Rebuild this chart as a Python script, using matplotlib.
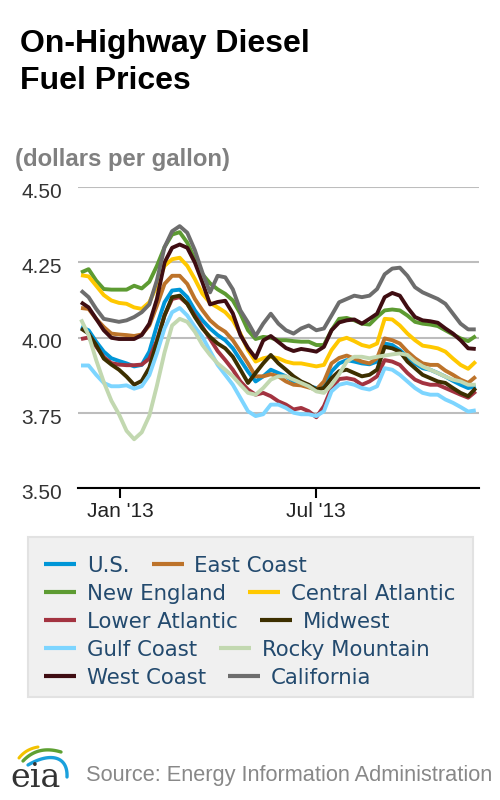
import numpy as np
import pandas as pd
import matplotlib
matplotlib.use("Agg")
import matplotlib.pyplot as plt
import matplotlib.dates as mdates
from matplotlib.lines import Line2D
from matplotlib.patches import Rectangle
from matplotlib.transforms import blended_transform_factory, offset_copy

# ---------------- data ----------------
dates = pd.date_range("2012-11-26", periods=53, freq="7D")

us = [4.035, 4.024, 3.986, 3.953, 3.931, 3.922, 3.914, 3.904, 3.909, 3.953,
      4.040, 4.117, 4.156, 4.159, 4.134, 4.090, 4.057, 4.030, 4.008, 3.991,
      3.964, 3.925, 3.887, 3.854, 3.871, 3.893, 3.882, 3.871, 3.854, 3.849,
      3.838, 3.832, 3.838, 3.887, 3.914, 3.925, 3.920, 3.914, 3.911, 3.920,
      3.980, 3.975, 3.958, 3.936, 3.914, 3.898, 3.893, 3.882, 3.870, 3.856,
      3.843, 3.832, 3.838]
east_coast = [4.098, 4.095, 4.062, 4.035, 4.013, 4.010, 4.008, 4.005, 4.010, 4.040,
              4.106, 4.178, 4.205, 4.205, 4.178, 4.128, 4.090, 4.057, 4.035, 4.019,
              3.991, 3.953, 3.914, 3.871, 3.871, 3.878, 3.871, 3.854, 3.843, 3.841,
              3.834, 3.827, 3.854, 3.914, 3.932, 3.940, 3.930, 3.920, 3.914, 3.931,
              3.997, 3.991, 3.980, 3.953, 3.931, 3.914, 3.909, 3.909, 3.890, 3.876,
              3.860, 3.849, 3.870]
new_england = [4.216, 4.227, 4.189, 4.161, 4.159, 4.159, 4.159, 4.172, 4.163, 4.185,
               4.238, 4.300, 4.342, 4.350, 4.315, 4.260, 4.210, 4.180, 4.160, 4.145,
               4.123, 4.079, 4.024, 3.995, 4.002, 3.999, 3.991, 3.991, 3.988, 3.986,
               3.986, 3.975, 3.975, 4.024, 4.062, 4.065, 4.057, 4.046, 4.043, 4.068,
               4.090, 4.093, 4.090, 4.073, 4.052, 4.046, 4.043, 4.038, 4.024, 4.010,
               3.997, 3.988, 4.005]
central_atlantic = [4.207, 4.203, 4.172, 4.141, 4.123, 4.115, 4.112, 4.100, 4.095, 4.117,
                    4.172, 4.238, 4.260, 4.265, 4.238, 4.194, 4.145, 4.115, 4.100, 4.084,
                    4.057, 4.013, 3.958, 3.920, 3.931, 3.936, 3.931, 3.920, 3.914, 3.914,
                    3.909, 3.904, 3.909, 3.958, 3.991, 3.999, 3.988, 3.975, 3.969, 3.980,
                    4.062, 4.060, 4.040, 4.013, 3.991, 3.973, 3.969, 3.964, 3.953, 3.930,
                    3.909, 3.896, 3.920]
lower_atlantic = [3.995, 4.000, 3.970, 3.935, 3.915, 3.910, 3.908, 3.908, 3.910, 3.930,
                  3.990, 4.073, 4.128, 4.134, 4.112, 4.073, 4.035, 3.995, 3.955, 3.925,
                  3.893, 3.854, 3.827, 3.810, 3.816, 3.805, 3.788, 3.777, 3.761, 3.766,
                  3.755, 3.735, 3.772, 3.832, 3.862, 3.865, 3.860, 3.843, 3.854, 3.871,
                  3.925, 3.920, 3.909, 3.882, 3.860, 3.849, 3.843, 3.843, 3.832, 3.821,
                  3.810, 3.800, 3.821]
midwest = [4.030, 4.013, 3.975, 3.930, 3.910, 3.893, 3.870, 3.843, 3.856, 3.900,
           3.986, 4.073, 4.134, 4.139, 4.112, 4.068, 4.030, 4.002, 3.980, 3.964,
           3.936, 3.893, 3.849, 3.882, 3.914, 3.942, 3.914, 3.893, 3.871, 3.854,
           3.843, 3.827, 3.832, 3.865, 3.888, 3.893, 3.882, 3.871, 3.876, 3.893,
           3.969, 3.964, 3.953, 3.920, 3.898, 3.876, 3.865, 3.854, 3.849, 3.832,
           3.816, 3.805, 3.832]
gulf_coast = [3.907, 3.907, 3.876, 3.849, 3.838, 3.838, 3.841, 3.830, 3.838, 3.875,
              3.948, 4.030, 4.084, 4.098, 4.073, 4.035, 4.002, 3.955, 3.909, 3.876,
              3.843, 3.799, 3.755, 3.739, 3.745, 3.777, 3.777, 3.766, 3.750, 3.745,
              3.745, 3.739, 3.755, 3.821, 3.843, 3.849, 3.843, 3.832, 3.827, 3.838,
              3.898, 3.893, 3.876, 3.854, 3.832, 3.816, 3.810, 3.810, 3.794, 3.783,
              3.769, 3.754, 3.758]
rocky_mountain = [4.060, 4.008, 3.925, 3.852, 3.790, 3.745, 3.690, 3.662, 3.685, 3.740,
                  3.840, 3.950, 4.040, 4.062, 4.052, 4.019, 3.975, 3.942, 3.914, 3.893,
                  3.871, 3.843, 3.816, 3.810, 3.832, 3.860, 3.871, 3.871, 3.860, 3.849,
                  3.838, 3.821, 3.816, 3.843, 3.878, 3.920, 3.936, 3.936, 3.931, 3.936,
                  3.940, 3.944, 3.947, 3.942, 3.920, 3.904, 3.893, 3.882, 3.870, 3.860,
                  3.854, 3.843, 3.843]
west_coast = [4.117, 4.100, 4.062, 4.024, 3.999, 3.995, 3.995, 3.995, 4.008, 4.046,
              4.128, 4.249, 4.298, 4.309, 4.298, 4.249, 4.183, 4.110, 4.118, 4.122,
              4.080, 4.008, 3.965, 3.932, 3.990, 4.005, 3.985, 3.965, 3.955, 3.962,
              3.958, 3.953, 3.969, 4.024, 4.050, 4.057, 4.060, 4.046, 4.062, 4.079,
              4.134, 4.148, 4.139, 4.100, 4.068, 4.057, 4.054, 4.049, 4.030, 4.013,
              3.991, 3.964, 3.962]
california = [4.156, 4.134, 4.095, 4.062, 4.057, 4.052, 4.057, 4.068, 4.084, 4.110,
              4.190, 4.300, 4.353, 4.370, 4.348, 4.290, 4.215, 4.150, 4.205, 4.200,
              4.160, 4.090, 4.050, 4.005, 4.046, 4.079, 4.046, 4.024, 4.013, 4.030,
              4.040, 4.024, 4.030, 4.073, 4.117, 4.128, 4.139, 4.134, 4.139, 4.161,
              4.210, 4.229, 4.232, 4.205, 4.167, 4.150, 4.139, 4.128, 4.112, 4.079,
              4.046, 4.027, 4.027]

series_names = ["U.S.", "East Coast", "New England", "Central Atlantic", "Lower Atlantic",
                "Midwest", "Gulf Coast", "Rocky Mountain", "West Coast", "California"]
series_values = [us, east_coast, new_england, central_atlantic, lower_atlantic,
                 midwest, gulf_coast, rocky_mountain, west_coast, california]
series_colors = ["#0096d7", "#bd732a", "#5d9b32", "#ffc800", "#a33340",
                 "#3d2f00", "#7dd5ff", "#c2d8b0", "#3f0d12", "#6d6d6d"]

ytick_vals = [3.50, 3.75, 4.00, 4.25, 4.50]
ytick_labels = ["3.50", "3.75", "4.00", "4.25", "4.50"]
xtick_dates = [pd.Timestamp("2013-01-01"), pd.Timestamp("2013-07-01")]
xtick_labels = ["Jan '13", "Jul '13"]

title_lines = ["On-Highway Diesel", "Fuel Prices"]
unit_label = "(dollars per gallon)"
source_text = "Source: Energy Information Administration"

# ---------------- figure ----------------
W, H = 500, 800
fig = plt.figure(figsize=(5, 8), dpi=100)
fig.patch.set_facecolor("white")

def fx(px):
    return px / W

def fy(py):
    return 1 - py / H

SANS = ["Liberation Sans", "DejaVu Sans"]

ax_left, ax_right, ax_top, ax_bottom = 78, 479, 187, 488
ax = fig.add_axes([fx(ax_left), fy(ax_bottom), (ax_right - ax_left) / W, (ax_bottom - ax_top) / H])

for vals, col in zip(series_values, series_colors):
    ax.plot(dates, vals, color=col, lw=2.8, solid_joinstyle="round", solid_capstyle="butt", zorder=3)

ax.set_ylim(3.5, 4.5)
px_per_day = 1.0845
first_px = 81
d0 = mdates.date2num(dates[0])
ax.set_xlim(d0 - (first_px - ax_left) / px_per_day, d0 + (ax_right - first_px) / px_per_day)

ax.set_yticks(ytick_vals)
ax.set_yticklabels([])
ax.tick_params(axis="y", length=0)
ax.yaxis.grid(True, color="#bdbdbd", lw=1.5)
ax.set_axisbelow(True)

ax.set_xticks(mdates.date2num(xtick_dates))
ax.set_xticklabels([])
ax.tick_params(axis="x", direction="out", length=7.5, width=1.5, color="black")

for s in ["top", "left", "right"]:
    ax.spines[s].set_visible(False)
ax.spines["bottom"].set_color("black")
ax.spines["bottom"].set_linewidth(1.5)
ax.spines["bottom"].set_zorder(4)

# y tick labels
ytrans = offset_copy(blended_transform_factory(fig.transFigure, ax.transData), fig=fig, x=0, y=-11, units="dots")
for v, lab in zip(ytick_vals, ytick_labels):
    fig.text(fx(62), v, lab, transform=ytrans, ha="right", va="baseline",
             fontsize=15, color="#333333", family=SANS)

# x tick labels
xtrans = blended_transform_factory(ax.transData, fig.transFigure)
for d, lab in zip(xtick_dates, xtick_labels):
    ax.text(mdates.date2num(d), fy(517), lab, transform=xtrans, ha="center", va="baseline",
            fontsize=15, color="#222222", family=SANS)

# titles
fig.text(fx(20), fy(52), title_lines[0], fontsize=23, weight="bold", color="black",
         family=SANS, va="baseline")
fig.text(fx(20), fy(89), title_lines[1], fontsize=23, weight="bold", color="black",
         family=SANS, va="baseline")
fig.text(fx(15), fy(166), unit_label, fontsize=17.2, weight="bold", color="#808080",
         family=SANS, va="baseline")

# ---------------- custom legend ----------------
fig.patches.append(Rectangle((fx(28), fy(697)), (473 - 28) / W, (697 - 537) / H,
                             transform=fig.transFigure, facecolor="#f0f0f0",
                             edgecolor="#e2e2e2", lw=1.5, zorder=0))
renderer = fig.canvas.get_renderer()
leg_color = "#234a6e"
for r in range(5):
    yc = 564 + 28 * r
    xh = 44
    for c in range(2):
        k = 2 * r + c
        fig.lines.append(Line2D([fx(xh), fx(xh + 32)], [fy(yc), fy(yc)], transform=fig.transFigure,
                                color=series_colors[k], lw=3.0, solid_capstyle="butt"))
        t = fig.text(fx(xh + 43), fy(yc + 7.7), series_names[k], fontsize=15.3, color=leg_color,
                     family="DejaVu Sans", va="baseline")
        bb = t.get_window_extent(renderer=renderer)
        xh = bb.x1 + 22

# ---------------- footer ----------------
fig.text(fx(86), fy(781), source_text, fontsize=15.7, color="#888888", family=SANS, va="baseline")

def qbez(p0, p1, p2, n=40):
    t = np.linspace(0, 1, n)
    p0, p1, p2 = map(np.array, (p0, p1, p2))
    pts = ((1 - t) ** 2)[:, None] * p0 + (2 * (1 - t) * t)[:, None] * p1 + (t ** 2)[:, None] * p2
    return pts[:, 0], pts[:, 1]

def cbez(p0, p1, p2, p3, n=40):
    t = np.linspace(0, 1, n)
    p0, p1, p2, p3 = map(np.array, (p0, p1, p2, p3))
    pts = (((1 - t) ** 3)[:, None] * p0 + (3 * (1 - t) ** 2 * t)[:, None] * p1 +
           (3 * (1 - t) * t ** 2)[:, None] * p2 + (t ** 3)[:, None] * p3)
    return pts[:, 0], pts[:, 1]

for (xs, ys), col, lw in [
    (qbez((19, 758), (26, 749), (38, 747)), "#f2c200", 2.2),
    (qbez((23, 761), (38, 745), (61, 752)), "#5ea032", 2.4),
    (cbez((28, 765), (50, 752), (68, 756), (67, 777)), "#1aa0dc", 2.4),
]:
    fig.lines.append(Line2D(xs / W, 1 - ys / H, transform=fig.transFigure, color=col, lw=lw,
                            solid_capstyle="round"))

fig.text(fx(10), fy(787), "eia", fontsize=24, color="#333333", family="DejaVu Serif", va="baseline")

fig.savefig("out.png", dpi=100)
